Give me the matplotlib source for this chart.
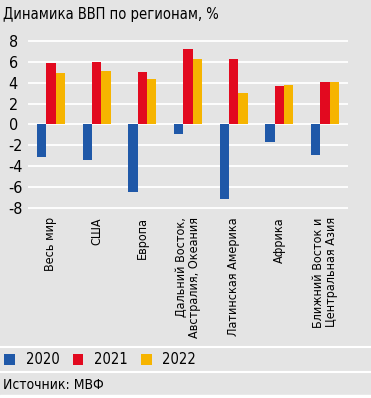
import matplotlib
matplotlib.use('Agg')
import matplotlib.pyplot as plt
from matplotlib.patches import Patch
import numpy as np

# data
regions = ['Весь мир', 'США', 'Европа', 'Дальний Восток,\nАвстралия, Океания',
           'Латинская Америка', 'Африка', 'Ближний Восток и\nЦентральная Азия']
years = ['2020', '2021', '2022']
gdp_2020 = [-3.1, -3.4, -6.5, -0.9, -7.1, -1.7, -2.9]
gdp_2021 = [5.9, 6.0, 5.0, 7.2, 6.3, 3.7, 4.1]
gdp_2022 = [4.9, 5.1, 4.3, 6.3, 3.0, 3.8, 4.1]
yticks = [-8, -6, -4, -2, 0, 2, 4, 6, 8]

colors = ['#1f58a8', '#e2091f', '#f6b400']
bg = '#e4e4e4'

# narrow look like the original
plt.rcParams['font.family'] = ['DejaVu Sans']
plt.rcParams['font.stretch'] = 'condensed'

W, H = 371, 398
fig = plt.figure(figsize=(W / 100, H / 100), dpi=100, facecolor=bg)

# axes placed in pixel terms
left, right = 28, 348
top, bottom = 35.6, 213.2
ax = fig.add_axes([left / W, 1 - bottom / H, (right - left) / W, (bottom - top) / H])
ax.set_facecolor(bg)

x = np.arange(len(regions))
w = 0.204
for k, vals in enumerate([gdp_2020, gdp_2021, gdp_2022]):
    ax.bar(x + (k - 1) * w, vals, width=w, color=colors[k], zorder=3)

ax.set_xlim(-0.5, 6.5)
ax.set_ylim(-8.5, 8.5)
ax.set_yticks(yticks)
ax.set_yticklabels([str(t) for t in yticks], fontsize=11.5)
ax.grid(axis='y', color='white', linewidth=1.3, zorder=0)
ax.set_xticks(x)
ax.set_xticklabels(regions, rotation=90, fontsize=9, va='top', ha='center',
                   multialignment='right', linespacing=1.0)
ax.tick_params(length=0)
ax.tick_params(axis='y', pad=14)
ax.tick_params(axis='x', pad=3)
for lab in ax.get_yticklabels():
    lab.set_horizontalalignment('left')
for s in ax.spines.values():
    s.set_visible(False)

# title and source
fig.text(3 / W, 1 - 15 / H, 'Динамика ВВП по регионам, %', fontsize=10.5,
         va='center', ha='left')
fig.text(3 / W, 1 - 385 / H, 'Источник: МВФ', fontsize=10, va='center', ha='left')

# separators
for yy in [347, 372]:
    fig.add_artist(plt.Line2D([0, 1], [1 - yy / H] * 2, color='white', linewidth=1.5))
fig.add_artist(plt.Rectangle((0, 0), 1, 3 / H, color='white', transform=fig.transFigure))

handles = [Patch(facecolor=c, edgecolor='none') for c in colors]
fig.legend(handles, years, loc='center left', bbox_to_anchor=(0, 1 - 360 / H),
           ncol=3, frameon=False, fontsize=10.5, handlelength=0.72, handleheight=0.72,
           handletextpad=0.75, columnspacing=0.9, borderpad=0, borderaxespad=0.3)

fig.savefig('out.png', dpi=100, facecolor=bg)
